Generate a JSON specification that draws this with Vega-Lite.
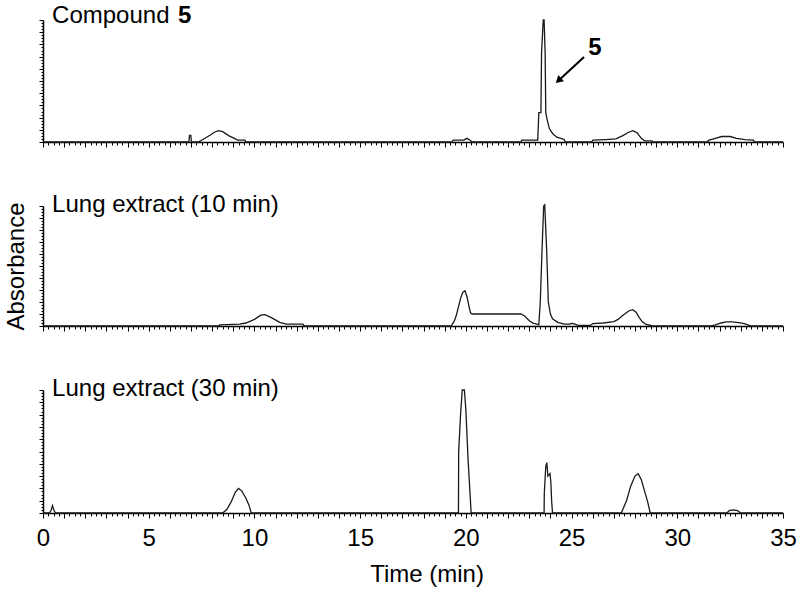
{
  "$schema": "https://vega.github.io/schema/vega-lite/v6.json",
  "autosize": {"type": "pad"},
  "padding": {"left": 4, "top": 4, "right": 5, "bottom": 5},
  "bounds": "flush",
  "spacing": 64,
  "background": "white",
  "config": {
    "view": {"stroke": null},
    "font": "Liberation Sans",
    "axis": {
      "domainColor": "black", "domainWidth": 1.5, "tickColor": "black", "tickWidth": 1,
      "grid": false, "labelColor": "black", "titleColor": "black",
      "labelFont": "Liberation Sans", "titleFont": "Liberation Sans",
      "labelFontSize": 24, "titleFontSize": 24, "titleFontWeight": "normal"
    }
  },
  "datasets": {
    "p1": [
      {"t":0,"a":0},{"t":6.9,"a":0},{"t":6.93,"a":5.5},{"t":6.99,"a":5.5},{"t":7.02,"a":0},{"t":7.35,"a":0},{"t":7.6,"a":2.5},{"t":7.9,"a":5.5},{"t":8.1,"a":8},{"t":8.3,"a":9.3},{"t":8.5,"a":8.5},{"t":8.8,"a":5},{"t":9.1,"a":2.5},{"t":9.2,"a":1.5},{"t":9.55,"a":1.5},{"t":9.6,"a":0},
      {"t":19.35,"a":0},{"t":19.4,"a":1.5},{"t":19.9,"a":1.5},{"t":20.05,"a":3},{"t":20.2,"a":1.5},{"t":20.3,"a":0},
      {"t":22.6,"a":0},{"t":22.65,"a":1.5},{"t":23.4,"a":1.5},{"t":23.45,"a":24},{"t":23.55,"a":24},{"t":23.58,"a":73},{"t":23.66,"a":100},{"t":23.7,"a":100},{"t":23.75,"a":73},{"t":23.78,"a":24},{"t":23.85,"a":18},{"t":23.95,"a":11},{"t":24.1,"a":7},{"t":24.3,"a":4},{"t":24.5,"a":3},{"t":24.65,"a":2},{"t":24.7,"a":0},
      {"t":25.95,"a":0},{"t":26.0,"a":1.5},{"t":26.6,"a":2},{"t":27.1,"a":2.5},{"t":27.4,"a":5},{"t":27.7,"a":8},{"t":27.9,"a":9.3},{"t":28.1,"a":7.5},{"t":28.3,"a":3},{"t":28.45,"a":1},{"t":28.8,"a":1},{"t":28.85,"a":0},
      {"t":31.4,"a":0},{"t":31.5,"a":1.5},{"t":31.8,"a":3},{"t":32.1,"a":4.5},{"t":32.5,"a":4.5},{"t":32.8,"a":3},{"t":33.2,"a":2},{"t":33.6,"a":1.5},{"t":33.65,"a":0},{"t":35,"a":0}
    ],
    "p2": [
      {"t":0,"a":0},{"t":8.3,"a":0},{"t":8.35,"a":1},{"t":9.3,"a":1.5},{"t":9.6,"a":2.5},{"t":10.0,"a":5.5},{"t":10.3,"a":9},{"t":10.5,"a":9.4},{"t":10.8,"a":7},{"t":11.2,"a":3},{"t":11.5,"a":1.5},{"t":12.3,"a":1.5},{"t":12.35,"a":0},
      {"t":19.3,"a":0},{"t":19.45,"a":4},{"t":19.55,"a":9},{"t":19.65,"a":16},{"t":19.75,"a":23},{"t":19.85,"a":28},{"t":19.96,"a":29.4},{"t":20.06,"a":24},{"t":20.14,"a":17},{"t":20.22,"a":11},{"t":20.3,"a":10},{"t":22.6,"a":10},{"t":22.77,"a":8.6},{"t":23.0,"a":4.4},{"t":23.2,"a":2.2},{"t":23.32,"a":1.7},{"t":23.45,"a":1},
      {"t":23.52,"a":20},{"t":23.6,"a":62},{"t":23.68,"a":100},{"t":23.73,"a":101},{"t":23.82,"a":64},{"t":23.9,"a":20},{"t":24.0,"a":10},{"t":24.1,"a":6},{"t":24.35,"a":3},{"t":24.66,"a":1.5},{"t":24.9,"a":1.5},{"t":25.0,"a":2.2},{"t":25.1,"a":2},{"t":25.3,"a":0.5},{"t":25.9,"a":0.5},
      {"t":26.0,"a":2},{"t":26.5,"a":2.5},{"t":27.0,"a":3.6},{"t":27.2,"a":5.5},{"t":27.4,"a":8.6},{"t":27.7,"a":12.5},{"t":27.9,"a":13.6},{"t":28.05,"a":11.5},{"t":28.2,"a":7},{"t":28.35,"a":3.5},{"t":28.5,"a":1.5},{"t":28.84,"a":0},
      {"t":31.6,"a":0},{"t":31.8,"a":1},{"t":32.07,"a":2.5},{"t":32.3,"a":3.4},{"t":32.6,"a":3.5},{"t":32.9,"a":2.8},{"t":33.17,"a":2},{"t":33.5,"a":0},{"t":35,"a":0}
    ],
    "p3": [
      {"t":0,"a":0},{"t":0.3,"a":0},{"t":0.38,"a":2},{"t":0.45,"a":6},{"t":0.52,"a":2},{"t":0.6,"a":0},
      {"t":8.5,"a":0},{"t":8.7,"a":3},{"t":8.9,"a":9},{"t":9.1,"a":17},{"t":9.25,"a":20},{"t":9.4,"a":18},{"t":9.6,"a":12},{"t":9.75,"a":6},{"t":9.85,"a":0},
      {"t":19.6,"a":0},{"t":19.65,"a":0},{"t":19.66,"a":50},{"t":19.75,"a":80},{"t":19.83,"a":100},{"t":19.93,"a":100},{"t":20.0,"a":84},{"t":20.1,"a":45},{"t":20.2,"a":15},{"t":20.25,"a":0},
      {"t":23.7,"a":0},{"t":23.71,"a":16},{"t":23.78,"a":38},{"t":23.83,"a":41},{"t":23.88,"a":30},{"t":23.93,"a":31},{"t":23.98,"a":32},{"t":24.02,"a":25},{"t":24.06,"a":9},{"t":24.1,"a":0},
      {"t":27.35,"a":0},{"t":27.6,"a":10},{"t":27.8,"a":22},{"t":28.0,"a":30},{"t":28.15,"a":32},{"t":28.3,"a":27},{"t":28.45,"a":18},{"t":28.6,"a":9},{"t":28.72,"a":0},
      {"t":32.35,"a":0},{"t":32.45,"a":2},{"t":32.65,"a":2.5},{"t":32.85,"a":2},{"t":33.0,"a":0},{"t":35,"a":0}
    ]
  },
  "vconcat": [
    {
      "width": 740, "height": 122,
      "layer": [
        {
          "data": {"name": "p1"},
          "mark": {"type": "line", "color": "#1a1a1a", "strokeWidth": 1.3},
          "encoding": {
            "x": {"field": "t", "type": "quantitative", "scale": {"domain": [0, 35], "nice": false, "zero": false},
              "axis": {"title": null, "labels": false, "tickCount": 500,
                "values": [0,0.25,0.5,0.75,1,1.25,1.5,1.75,2,2.25,2.5,2.75,3,3.25,3.5,3.75,4,4.25,4.5,4.75,5,5.25,5.5,5.75,6,6.25,6.5,6.75,7,7.25,7.5,7.75,8,8.25,8.5,8.75,9,9.25,9.5,9.75,10,10.25,10.5,10.75,11,11.25,11.5,11.75,12,12.25,12.5,12.75,13,13.25,13.5,13.75,14,14.25,14.5,14.75,15,15.25,15.5,15.75,16,16.25,16.5,16.75,17,17.25,17.5,17.75,18,18.25,18.5,18.75,19,19.25,19.5,19.75,20,20.25,20.5,20.75,21,21.25,21.5,21.75,22,22.25,22.5,22.75,23,23.25,23.5,23.75,24,24.25,24.5,24.75,25,25.25,25.5,25.75,26,26.25,26.5,26.75,27,27.25,27.5,27.75,28,28.25,28.5,28.75,29,29.25,29.5,29.75,30,30.25,30.5,30.75,31,31.25,31.5,31.75,32,32.25,32.5,32.75,33,33.25,33.5,33.75,34,34.25,34.5,34.75,35],
                "tickSize": {"condition": {"test": "datum.value % 1 === 0", "value": 5}, "value": 3}}},
            "y": {"field": "a", "type": "quantitative", "scale": {"domain": [0, 100], "nice": false},
              "axis": {"title": null, "labels": false, "tickCount": 500,
                "values": [0,2.5,5,7.5,10,12.5,15,17.5,20,22.5,25,27.5,30,32.5,35,37.5,40,42.5,45,47.5,50,52.5,55,57.5,60,62.5,65,67.5,70,72.5,75,77.5,80,82.5,85,87.5,90,92.5,95,97.5,100],
                "tickSize": {"condition": {"test": "datum.value % 10 === 0", "value": 4}, "value": 2}}}
          }
        },
        {
          "data": {"values": [{"label": "Compound"}]},
          "mark": {"type": "text", "align": "left", "baseline": "alphabetic", "fontSize": 24, "color": "black"},
          "encoding": {"x": {"datum": 0.43, "type": "quantitative"}, "y": {"datum": 97.5, "type": "quantitative"}, "text": {"field": "label"}}
        },
        {
          "data": {"values": [{"label": "5"}]},
          "mark": {"type": "text", "align": "left", "baseline": "alphabetic", "fontSize": 24, "fontWeight": "bold", "color": "black"},
          "encoding": {"x": {"datum": 6.39, "type": "quantitative"}, "y": {"datum": 97.5, "type": "quantitative"}, "text": {"field": "label"}}
        },
        {
          "data": {"values": [{"label": "5"}]},
          "mark": {"type": "text", "align": "center", "baseline": "alphabetic", "fontSize": 24, "fontWeight": "bold", "color": "black"},
          "encoding": {"x": {"datum": 26.11, "type": "quantitative"}, "y": {"datum": 71.3, "type": "quantitative"}, "text": {"field": "label"}}
        },
        {
          "data": {"values": [{}]},
          "mark": {"type": "rule", "color": "black", "strokeWidth": 2},
          "encoding": {"x": {"datum": 25.59, "type": "quantitative"}, "y": {"datum": 69.7, "type": "quantitative"}, "x2": {"datum": 24.4}, "y2": {"datum": 50.6}}
        },
        {
          "data": {"values": [{}]},
          "mark": {"type": "point", "shape": "triangle-up", "filled": true, "color": "black", "opacity": 1, "size": 70, "angle": 227},
          "encoding": {"x": {"datum": 24.38, "type": "quantitative"}, "y": {"datum": 50.3, "type": "quantitative"}}
        }
      ]
    },
    {
      "width": 740, "height": 120,
      "layer": [
        {
          "data": {"name": "p2"},
          "mark": {"type": "line", "color": "#1a1a1a", "strokeWidth": 1.3},
          "encoding": {
            "x": {"field": "t", "type": "quantitative", "scale": {"domain": [0, 35], "nice": false, "zero": false},
              "axis": {"title": null, "labels": false, "tickCount": 500,
                "values": [0,0.25,0.5,0.75,1,1.25,1.5,1.75,2,2.25,2.5,2.75,3,3.25,3.5,3.75,4,4.25,4.5,4.75,5,5.25,5.5,5.75,6,6.25,6.5,6.75,7,7.25,7.5,7.75,8,8.25,8.5,8.75,9,9.25,9.5,9.75,10,10.25,10.5,10.75,11,11.25,11.5,11.75,12,12.25,12.5,12.75,13,13.25,13.5,13.75,14,14.25,14.5,14.75,15,15.25,15.5,15.75,16,16.25,16.5,16.75,17,17.25,17.5,17.75,18,18.25,18.5,18.75,19,19.25,19.5,19.75,20,20.25,20.5,20.75,21,21.25,21.5,21.75,22,22.25,22.5,22.75,23,23.25,23.5,23.75,24,24.25,24.5,24.75,25,25.25,25.5,25.75,26,26.25,26.5,26.75,27,27.25,27.5,27.75,28,28.25,28.5,28.75,29,29.25,29.5,29.75,30,30.25,30.5,30.75,31,31.25,31.5,31.75,32,32.25,32.5,32.75,33,33.25,33.5,33.75,34,34.25,34.5,34.75,35],
                "tickSize": {"condition": {"test": "datum.value % 1 === 0", "value": 5}, "value": 3}}},
            "y": {"field": "a", "type": "quantitative", "scale": {"domain": [0, 100], "nice": false},
              "axis": {"title": "Absorbance", "titlePadding": 10, "labels": false, "tickCount": 500,
                "values": [0,2.5,5,7.5,10,12.5,15,17.5,20,22.5,25,27.5,30,32.5,35,37.5,40,42.5,45,47.5,50,52.5,55,57.5,60,62.5,65,67.5,70,72.5,75,77.5,80,82.5,85,87.5,90,92.5,95,97.5,100],
                "tickSize": {"condition": {"test": "datum.value % 10 === 0", "value": 4}, "value": 2}}}
          }
        },
        {
          "data": {"values": [{"label": "Lung extract (10 min)"}]},
          "mark": {"type": "text", "align": "left", "baseline": "alphabetic", "fontSize": 24, "color": "black"},
          "encoding": {"x": {"datum": 0.43, "type": "quantitative"}, "y": {"datum": 95, "type": "quantitative"}, "text": {"field": "label"}}
        }
      ]
    },
    {
      "width": 740, "height": 123,
      "layer": [
        {
          "data": {"name": "p3"},
          "mark": {"type": "line", "color": "#1a1a1a", "strokeWidth": 1.3},
          "encoding": {
            "x": {"field": "t", "type": "quantitative", "scale": {"domain": [0, 35], "nice": false, "zero": false},
              "axis": {"title": "Time (min)", "titlePadding": 12, "titleX": 383.5, "labelFlush": false, "labelOverlap": false, "labelPadding": 8, "tickCount": 500,
                "labelExpr": "datum.value % 5 === 0 ? format(datum.value, 'd') : ''",
                "values": [0,0.25,0.5,0.75,1,1.25,1.5,1.75,2,2.25,2.5,2.75,3,3.25,3.5,3.75,4,4.25,4.5,4.75,5,5.25,5.5,5.75,6,6.25,6.5,6.75,7,7.25,7.5,7.75,8,8.25,8.5,8.75,9,9.25,9.5,9.75,10,10.25,10.5,10.75,11,11.25,11.5,11.75,12,12.25,12.5,12.75,13,13.25,13.5,13.75,14,14.25,14.5,14.75,15,15.25,15.5,15.75,16,16.25,16.5,16.75,17,17.25,17.5,17.75,18,18.25,18.5,18.75,19,19.25,19.5,19.75,20,20.25,20.5,20.75,21,21.25,21.5,21.75,22,22.25,22.5,22.75,23,23.25,23.5,23.75,24,24.25,24.5,24.75,25,25.25,25.5,25.75,26,26.25,26.5,26.75,27,27.25,27.5,27.75,28,28.25,28.5,28.75,29,29.25,29.5,29.75,30,30.25,30.5,30.75,31,31.25,31.5,31.75,32,32.25,32.5,32.75,33,33.25,33.5,33.75,34,34.25,34.5,34.75,35],
                "tickSize": {"condition": {"test": "datum.value % 1 === 0", "value": 5}, "value": 3}}},
            "y": {"field": "a", "type": "quantitative", "scale": {"domain": [0, 100], "nice": false},
              "axis": {"title": null, "labels": false, "tickCount": 500,
                "values": [0,2.5,5,7.5,10,12.5,15,17.5,20,22.5,25,27.5,30,32.5,35,37.5,40,42.5,45,47.5,50,52.5,55,57.5,60,62.5,65,67.5,70,72.5,75,77.5,80,82.5,85,87.5,90,92.5,95,97.5,100],
                "tickSize": {"condition": {"test": "datum.value % 10 === 0", "value": 4}, "value": 2}}}
          }
        },
        {
          "data": {"values": [{"label": "Lung extract (30 min)"}]},
          "mark": {"type": "text", "align": "left", "baseline": "alphabetic", "fontSize": 24, "color": "black"},
          "encoding": {"x": {"datum": 0.43, "type": "quantitative"}, "y": {"datum": 95.1, "type": "quantitative"}, "text": {"field": "label"}}
        }
      ]
    }
  ]
}
